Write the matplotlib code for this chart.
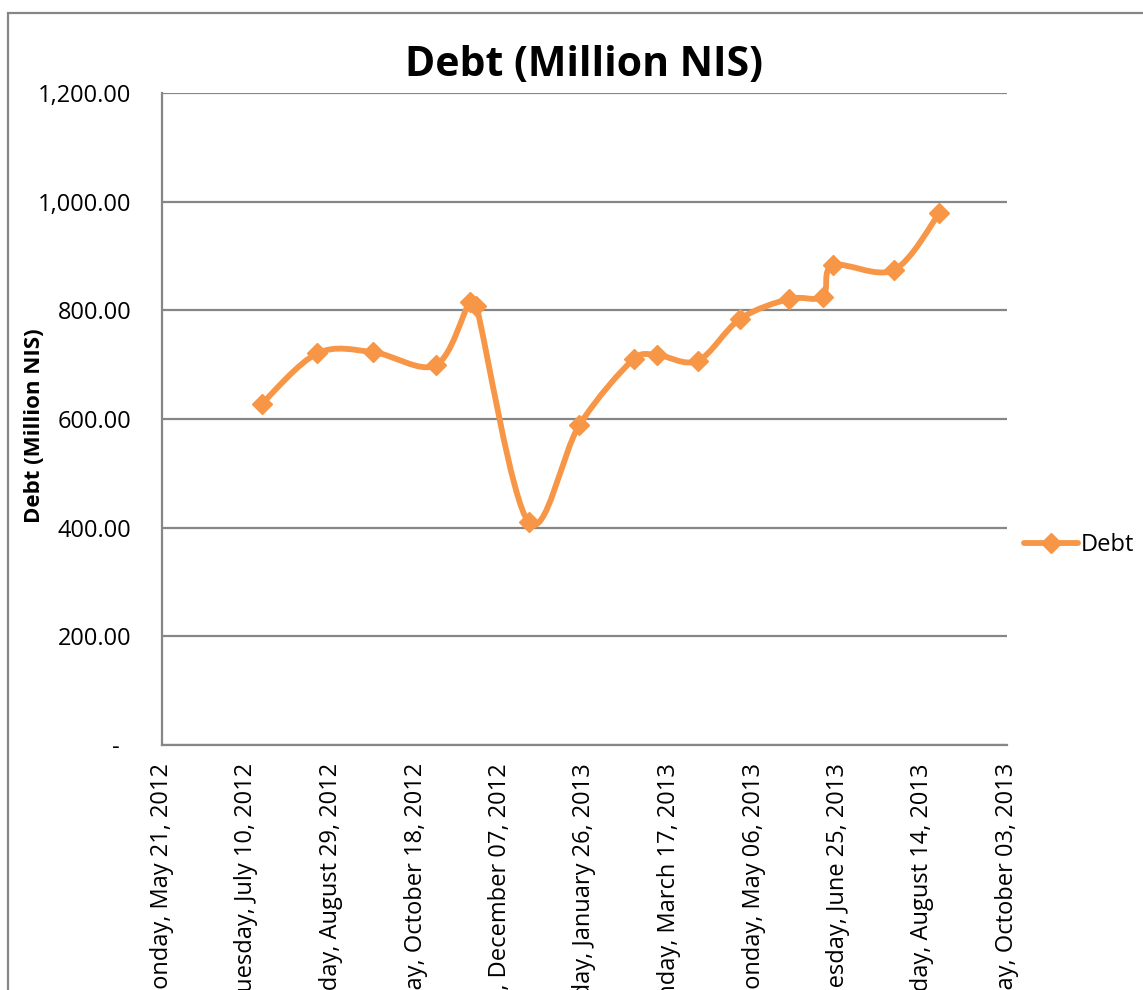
"""
plot.py
 Debt (Million NIS) - linea suavizada estilo Excel
"""
import numpy as np
import pandas as pd
import matplotlib
matplotlib.use('Agg')
import matplotlib.pyplot as plt
import matplotlib.dates as mdates
from matplotlib.path import Path
from matplotlib.patches import PathPatch, Rectangle
from matplotlib.lines import Line2D
from matplotlib.ticker import FuncFormatter

# datos
fechas = ['2012-07-19', '2012-08-21', '2012-09-23', '2012-10-30', '2012-11-19',
          '2012-11-23', '2012-12-24', '2013-01-23', '2013-02-24', '2013-03-10',
          '2013-04-03', '2013-04-28', '2013-05-27', '2013-06-16', '2013-06-22',
          '2013-07-28', '2013-08-24']
deuda = [628, 721, 723, 699, 815, 808, 410, 589, 710, 718,
         707, 784, 821, 825, 883, 874, 979]
inicio_x = '2012-05-21'
fin_x = '2013-10-03'
paso_dias = 50
serie = 'Debt'
titulo = 'Debt (Million NIS)'

naranja = '#F79646'
gris = '#868686'
plt.rcParams['font.family'] = ['Open Sans', 'DejaVu Sans']

x = mdates.date2num(pd.to_datetime(fechas).to_pydatetime())
y = np.array(deuda, dtype=float)

fig = plt.figure(figsize=(11.43, 9.9), dpi=100)
ax = fig.add_axes([162/1143, 1-745/990, (1007-162)/1143, (745-93)/990])

x0 = mdates.date2num(pd.Timestamp(inicio_x))
x1 = mdates.date2num(pd.Timestamp(fin_x))
ax.set_xlim(x0, x1)
ax.set_ylim(0, 1200)

# curva suavizada (bezier tipo Excel) calculada en pixeles
P = ax.transData.transform(np.column_stack([x, y]))
Pe = np.vstack([P[0], P, P[-1]])
verts = [P[0]]
codes = [Path.MOVETO]
for i in range(1, len(Pe) - 2):
    a, b = Pe[i], Pe[i+1]
    seg = np.hypot(*(b - a))
    t1 = (Pe[i+1] - Pe[i-1]) / 6
    t2 = (Pe[i+2] - Pe[i]) / 6
    for t in (t1, t2):
        n = np.hypot(*t)
        if n > 0.5 * seg and n > 0:
            t *= 0.5 * seg / n
    verts += [a + t1, b - t2, b]
    codes += [Path.CURVE4] * 3
verts = ax.transData.inverted().transform(np.array(verts))
ax.add_patch(PathPatch(Path(verts, codes), facecolor='none', edgecolor=naranja,
                       lw=4.2, capstyle='round', joinstyle='round', zorder=3))
ax.plot(x, y, linestyle='none', marker='D', ms=10.5, color=naranja, zorder=4)

ax.set_xticks(np.arange(x0, x1 + 1, paso_dias))
ax.xaxis.set_major_formatter(mdates.DateFormatter('%A, %B %d, %Y'))
ax.set_yticks(np.arange(0, 1201, 200))
ax.yaxis.set_major_formatter(FuncFormatter(lambda v, p: '-  ' if v == 0 else f'{v:,.2f}'))
for lab in ax.get_xticklabels():
    lab.set_rotation(90)
    lab.set_va('top')
    lab.set_ha('center')
ax.tick_params(axis='both', length=0, labelsize=17)
ax.tick_params(axis='x', pad=13)
ax.tick_params(axis='y', pad=22)

ax.grid(axis='y', color=gris, lw=1.6)
ax.set_axisbelow(True)
for s in ['top', 'right']:
    ax.spines[s].set_visible(False)
for s in ['left', 'bottom']:
    ax.spines[s].set_color(gris)
    ax.spines[s].set_linewidth(1.6)

ax.set_ylabel(titulo, fontsize=16, fontweight='bold')
ax.yaxis.set_label_coords(-0.139, 0.49)
fig.text(584/1143, 1 - 65/990, titulo, fontsize=29.5, fontweight='bold',
         ha='center', va='center')

h = Line2D([], [], color=naranja, lw=4.2, marker='D', ms=10, solid_capstyle='round')
ax.legend([h], [serie], loc='center left', bbox_to_anchor=(0.995, 0.307),
          frameon=False, fontsize=17, handlelength=2.3, handletextpad=0.1)

# borde del area del grafico
fig.patches.append(Rectangle((8/1143, -0.2), 2, 1.2 - 13/990,
                             transform=fig.transFigure, fill=False,
                             edgecolor=gris, lw=1.6))

fig.savefig('out.png', dpi=100)
